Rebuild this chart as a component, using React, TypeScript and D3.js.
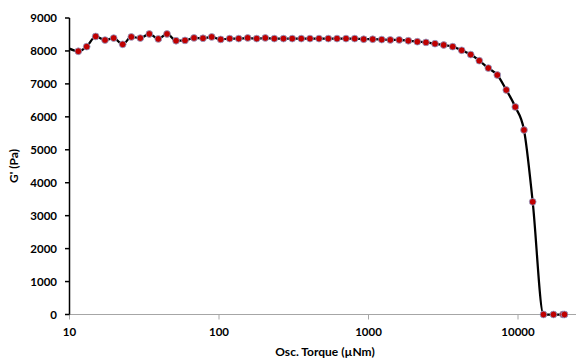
import * as d3 from "d3";
import { useEffect, useRef } from "react";

// Osc. torque sweep (µNm) and storage modulus G' (Pa)
const torque = [
  9.97, 11.45, 13.03, 14.97, 17.28, 19.75, 22.69, 25.91, 29.76, 34.19, 39.26, 44.9, 51.6, 59.25,
  68.05, 78.16, 89.38, 102.7, 117.9, 135.5, 155.6, 178.7, 204, 234.4, 270, 309, 355, 406, 466.7,
  538.5, 615.6, 707.2, 808.6, 928.8, 1067, 1226, 1399, 1605, 1846, 2121, 2424, 2785, 3184, 3658,
  4202, 4827, 5509, 6330, 7270, 8350, 9592, 10970, 12540, 14810, 17280, 20000, 20470,
];
const modulus = [
  8070, 7990, 8130, 8440, 8330, 8390, 8200, 8425, 8390, 8515, 8365, 8515, 8310, 8320, 8395, 8385,
  8425, 8350, 8375, 8375, 8395, 8375, 8395, 8375, 8375, 8375, 8375, 8375, 8375, 8375, 8375, 8375,
  8375, 8355, 8355, 8345, 8335, 8335, 8310, 8280, 8260, 8220, 8180, 8130, 8020, 7890, 7705, 7480,
  7270, 6815, 6300, 5600, 3420, 0, 0, 0, 0,
];
const xTicks = [10, 100, 1000, 10000];
const yTicks = [0, 1000, 2000, 3000, 4000, 5000, 6000, 7000, 8000, 9000];

const FONT = "Lato, 'Open Sans', sans-serif";

export default function App() {
  const ref = useRef<SVGSVGElement>(null);

  useEffect(() => {
    if (!ref.current) return;
    const width = 576;
    const height = 360;
    const svg = d3.select(ref.current);
    svg.selectAll("*").remove();
    svg.attr("width", width).attr("height", height);

    const left = 69.5;
    const top = 18;
    const bottom = 314.5;
    const decade = 149.5;

    const x = d3.scaleLog().domain([10, 100000]).range([left, left + 4 * decade]);
    const y = d3.scaleLinear().domain([0, 9000]).range([bottom, top]);

    const points = torque.map((t, i) => ({ t, g: modulus[i] }));

    svg
      .append("defs")
      .append("clipPath")
      .attr("id", "plot-clip")
      .append("rect")
      .attr("x", left)
      .attr("y", top - 6)
      .attr("width", width - left)
      .attr("height", bottom - top + 12);

    // x axis (grey)
    const xAxis = svg.append("g");
    xAxis
      .append("line")
      .attr("x1", left)
      .attr("x2", width)
      .attr("y1", bottom)
      .attr("y2", bottom)
      .attr("stroke", "#a6a6a6")
      .attr("stroke-width", 1);
    xTicks.forEach((t) => {
      xAxis
        .append("line")
        .attr("x1", x(t))
        .attr("x2", x(t))
        .attr("y1", bottom)
        .attr("y2", bottom + 5)
        .attr("stroke", "#a6a6a6");
      xAxis
        .append("text")
        .attr("x", x(t))
        .attr("y", 336)
        .attr("text-anchor", "middle")
        .attr("font-family", FONT)
        .attr("font-weight", "bold")
        .attr("font-size", 11.5)
        .attr("fill", "#000")
        .text(String(t));
    });

    // y axis (black)
    const yAxis = svg.append("g");
    yAxis
      .append("line")
      .attr("x1", left)
      .attr("x2", left)
      .attr("y1", top)
      .attr("y2", bottom)
      .attr("stroke", "#000")
      .attr("stroke-width", 1.5);
    yTicks.forEach((t) => {
      yAxis
        .append("line")
        .attr("x1", left - 4.5)
        .attr("x2", left)
        .attr("y1", y(t))
        .attr("y2", y(t))
        .attr("stroke", "#000")
        .attr("stroke-width", 1.5);
      yAxis
        .append("text")
        .attr("x", 57)
        .attr("y", y(t))
        .attr("dy", "0.36em")
        .attr("text-anchor", "end")
        .attr("font-family", FONT)
        .attr("font-weight", "bold")
        .attr("font-size", 11.5)
        .attr("fill", "#000")
        .text(String(t));
    });

    const plot = svg.append("g").attr("clip-path", "url(#plot-clip)");

    const line = d3
      .line<{ t: number; g: number }>()
      .x((d) => x(d.t))
      .y((d) => y(d.g))
      .curve(d3.curveMonotoneX);

    plot
      .append("path")
      .datum(points)
      .attr("d", line)
      .attr("fill", "none")
      .attr("stroke", "#000")
      .attr("stroke-width", 2.25);

    plot
      .selectAll("circle")
      .data(points.filter((d) => d.t >= 10))
      .join("circle")
      .attr("cx", (d) => x(d.t))
      .attr("cy", (d) => y(d.g))
      .attr("r", 3.4)
      .attr("fill", "#c00000")
      .attr("stroke", "#8fa3cf")
      .attr("stroke-width", 0.8);

    svg
      .append("text")
      .attr("x", 325)
      .attr("y", 356)
      .attr("text-anchor", "middle")
      .attr("font-family", FONT)
      .attr("font-weight", "bold")
      .attr("font-size", 12)
      .attr("fill", "#000")
      .text("Osc. Torque (µNm)");

    svg
      .append("text")
      .attr("transform", `translate(18,166) rotate(-90)`)
      .attr("text-anchor", "middle")
      .attr("font-family", FONT)
      .attr("font-weight", "bold")
      .attr("font-size", 12)
      .attr("fill", "#000")
      .text("G' (Pa)");
  }, []);

  return <svg ref={ref} style={{ position: "absolute", left: 0, top: 0 }} />;
}
